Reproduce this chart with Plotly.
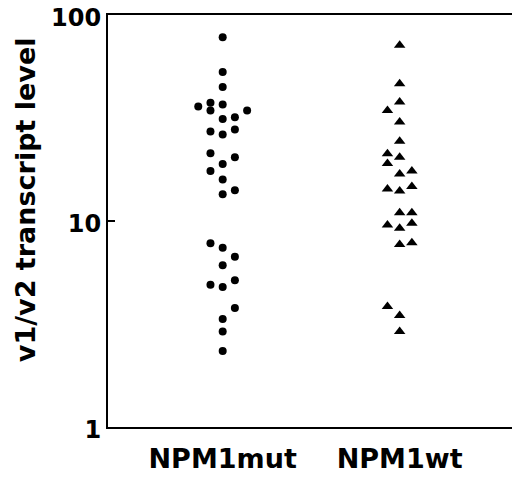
import plotly.graph_objects as go

categories = ["NPM1mut", "NPM1wt"]

mut_values = [77.9, 52.9, 44.7, 37.5, 36.8, 36.0, 34.4, 34.4, 31.9, 31.3,
              27.8, 27.2, 26.3, 21.3, 20.4, 18.9, 17.5, 15.9, 14.1, 13.5,
              7.79, 7.41, 6.70, 6.10, 5.15, 4.91, 4.78, 3.78, 3.34, 2.91, 2.34]
mut_slots = [0, 0, 0, -1, 0, -2, -1, 2, 1, 0,
             1, -1, 0, -1, 1, 0, -1, 0, 1, 0,
             -1, 0, 1, 0, 1, -1, 0, 1, 0, 0, 0]

wt_values = [71.4, 46.4, 37.8, 34.4, 30.2, 24.4, 21.2, 20.4, 19.0, 17.5,
             16.9, 14.7, 14.3, 14.0, 10.98, 10.98, 9.74, 9.56, 9.21, 7.84,
             7.70, 3.85, 3.48, 2.91]
wt_slots = [0, 0, 0, -1, 0, 0, -1, 0, -1, 1,
            0, 1, -1, 0, 0, 1, 1, -1, 0, 1,
            0, -1, 0, 0]

y_ticks = [1, 10, 100]
y_title = "v1/v2 transcript level"

SLOT_W = 0.069
FONT = "DejaVu Sans"

fig = go.Figure()
fig.add_trace(go.Scatter(
    x=[1 + s * SLOT_W for s in mut_slots], y=mut_values, mode="markers",
    marker=dict(symbol="circle", size=8, color="black"), showlegend=False))
fig.add_trace(go.Scatter(
    x=[2 + s * SLOT_W for s in wt_slots], y=wt_values, mode="markers",
    marker=dict(symbol="triangle-up", size=10, color="black"), showlegend=False))

# the page body adds an 8px offset, margins compensate for it
fig.update_layout(
    width=512, height=473,
    margin=dict(l=100, r=3, t=7, b=54, autoexpand=False),
    paper_bgcolor="white", plot_bgcolor="white",
    font=dict(family=FONT, color="black"),
)
fig.update_xaxes(
    range=[0.352, 2.663], tickvals=[1, 2], ticktext=categories,
    tickfont=dict(family=FONT, size=27, color="black", weight="bold"),
    showgrid=False, zeroline=False, showline=True, mirror=True,
    linecolor="black", linewidth=2, ticks="", ticklabelstandoff=7,
)
fig.update_yaxes(
    type="log", range=[0, 2], tickvals=y_ticks, ticktext=[str(v) for v in y_ticks],
    tickfont=dict(family=FONT, size=24, color="black", weight="bold"),
    showgrid=False, zeroline=False, showline=True, mirror=True,
    linecolor="black", linewidth=2, ticks="inside", ticklen=7, tickwidth=2,
    tickcolor="black", ticklabeloverflow="allow", ticklabelshift=3,
)
fig.add_annotation(
    text=y_title, textangle=-90, xref="paper", yref="paper",
    x=-0.2, y=0.551, xanchor="center", yanchor="middle", showarrow=False,
    font=dict(family=FONT, size=27, color="black", weight="bold"),
)
fig.write_html("out.html")
